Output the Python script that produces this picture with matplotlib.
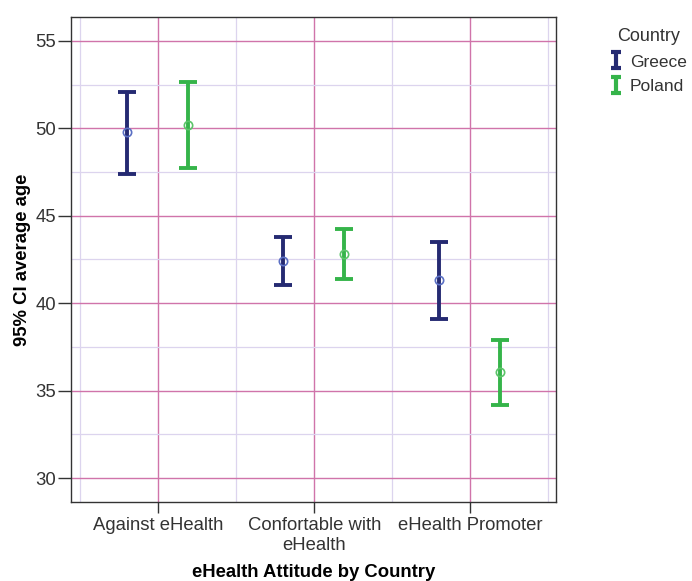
import numpy as np
import matplotlib.pyplot as plt
from matplotlib.ticker import MultipleLocator, FixedLocator
from matplotlib.path import Path
from matplotlib.lines import Line2D

plt.rcParams['font.family'] = ['Liberation Sans', 'DejaVu Sans']

categories = ['Against eHealth', 'Confortable with\neHealth', 'eHealth Promoter']
countries = ['Greece', 'Poland']
greece_mean = [49.8, 42.4, 41.3]
greece_low = [47.4, 41.05, 39.1]
greece_high = [52.1, 43.8, 43.5]
poland_mean = [50.2, 42.8, 36.05]
poland_low = [47.7, 41.4, 34.2]
poland_high = [52.65, 44.25, 37.9]

colors = {'Greece': '#252a72', 'Poland': '#35b44a'}
marker_colors = {'Greece': '#5b70c4', 'Poland': '#5cc46a'}

fig = plt.figure(figsize=(6.92, 5.81), dpi=100)
ax = fig.add_axes([0.1026, 0.136, 0.701, 0.835])

x = np.arange(len(categories))
series = [
    ('Greece', -0.2, greece_mean, greece_low, greece_high),
    ('Poland', 0.19, poland_mean, poland_low, poland_high),
]
for name, off, m, lo, hi in series:
    m = np.array(m); lo = np.array(lo); hi = np.array(hi)
    ax.errorbar(x + off, m, yerr=[m - lo, hi - m], fmt='none',
                ecolor=colors[name], elinewidth=2.8, capsize=6.5,
                capthick=2.8, zorder=3)
    ax.plot(x + off, m, 'o', ms=6, mfc='none', mec=marker_colors[name],
            mew=1.2, zorder=4)

ax.set_xlim(-0.56, 2.55)
ax.set_ylim(28.63, 56.37)
ax.set_xticks(x)
ax.set_xticklabels(categories, fontsize=13.3, color='#222222', linespacing=1.2)
ax.xaxis.set_minor_locator(FixedLocator([-0.5, 0.5, 1.5, 2.5]))
ax.yaxis.set_major_locator(MultipleLocator(5))
ax.yaxis.set_minor_locator(MultipleLocator(2.5))
ax.tick_params(axis='x', which='major', length=8, width=1, color='#333333',
               labelsize=13.3, labelcolor='#333333', pad=3)
ax.tick_params(axis='y', which='major', length=9.5, width=1, color='#333333',
               labelsize=13.3, labelcolor='#333333', pad=1)
ax.tick_params(axis='both', which='minor', length=0)
ax.grid(True, which='major', color='#d074aa', lw=1.0, zorder=1)
ax.grid(True, which='minor', color='#dcd4ee', lw=0.9, zorder=1)
ax.set_axisbelow(True)
for sp in ax.spines.values():
    sp.set_color('#333333')
    sp.set_linewidth(1)

ax.set_xlabel('eHealth Attitude by Country', fontsize=13.3, fontweight='bold',
              labelpad=7)
ax.set_ylabel('95% CI average age', fontsize=13.3, fontweight='bold', labelpad=3)

# I-beam marker for the legend
ibeam = Path([(-0.6, 1), (0.6, 1), (0, 1), (0, -1), (-0.6, -1), (0.6, -1)],
             [Path.MOVETO, Path.LINETO, Path.MOVETO, Path.LINETO,
              Path.MOVETO, Path.LINETO])
handles = [Line2D([], [], ls='none', marker=ibeam, ms=12, mew=3,
                  color=colors[c]) for c in countries]
leg = fig.legend(handles=handles, labels=countries, title='Country',
                 loc='upper left', bbox_to_anchor=(0.8535, 0.985), frameon=False,
                 fontsize=12.5, title_fontsize=13, handlelength=0.7,
                 handletextpad=0.45, labelspacing=0.55, borderpad=0.6)
leg.get_title().set_color('#333333')
for t in leg.get_texts():
    t.set_color('#333333')

fig.savefig('out.png', dpi=100)
